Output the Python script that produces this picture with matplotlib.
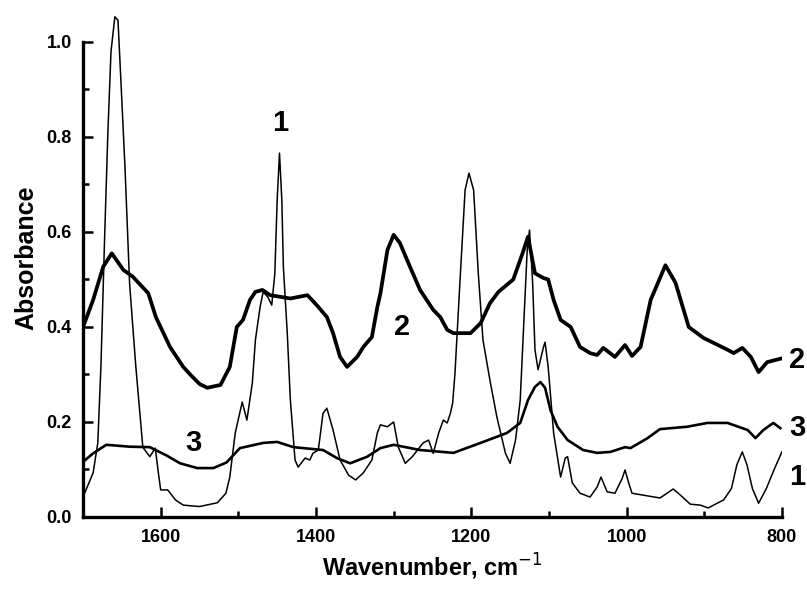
import matplotlib
matplotlib.use("Agg")
import matplotlib.pyplot as plt
from matplotlib.ticker import MultipleLocator

plt.rcParams['font.family'] = ['Liberation Sans', 'DejaVu Sans']

# curve 1 (thin, sharp bands)
wn1 = [1700, 1687, 1681, 1677, 1672, 1668, 1664, 1659, 1655, 1651, 1646, 1640, 1632, 1623,
       1614, 1607, 1603, 1600, 1591, 1581, 1571, 1550, 1527, 1516, 1511, 1504, 1495, 1489,
       1482, 1478, 1472, 1468, 1462, 1457, 1453, 1450, 1447, 1444, 1442, 1437, 1433, 1427,
       1423, 1414, 1408, 1404, 1397, 1391, 1386, 1378, 1369, 1358, 1349, 1339, 1328, 1321,
       1317, 1308, 1300, 1294, 1285, 1276, 1262, 1255, 1249, 1242, 1236, 1231, 1227, 1224,
       1221, 1214, 1208, 1203, 1197, 1191, 1185, 1176, 1167, 1156, 1150, 1143, 1137, 1133,
       1128, 1125, 1121, 1118, 1114, 1107, 1105, 1101, 1094, 1085, 1079, 1076, 1070, 1060,
       1047, 1038, 1033, 1025, 1015, 1006, 1002, 997, 993, 975, 957, 948, 940, 930, 918,
       905, 895, 875, 865, 858, 851, 845, 838, 830, 820, 810, 800]
ab1 = [0.042, 0.093, 0.156, 0.316, 0.60, 0.81, 0.98, 1.053, 1.046, 0.91, 0.737, 0.49, 0.316, 0.147,
       0.127, 0.145, 0.093, 0.057, 0.057, 0.036, 0.025, 0.022, 0.03, 0.05, 0.084, 0.177, 0.242, 0.204,
       0.282, 0.373, 0.442, 0.474, 0.463, 0.446, 0.513, 0.667, 0.766, 0.667, 0.526, 0.387, 0.246, 0.12,
       0.105, 0.124, 0.12, 0.134, 0.141, 0.218, 0.229, 0.183, 0.12, 0.088, 0.078, 0.093, 0.12, 0.177,
       0.194, 0.19, 0.20, 0.147, 0.113, 0.127, 0.156, 0.162, 0.134, 0.177, 0.204, 0.198, 0.218, 0.24,
       0.303, 0.513, 0.688, 0.724, 0.688, 0.513, 0.373, 0.288, 0.21, 0.134, 0.113, 0.162, 0.246, 0.387,
       0.562, 0.604, 0.493, 0.352, 0.31, 0.358, 0.368, 0.316, 0.177, 0.084, 0.124, 0.127, 0.072, 0.05,
       0.042, 0.063, 0.084, 0.053, 0.05, 0.08, 0.099, 0.07, 0.05, 0.045, 0.04, 0.05, 0.059, 0.045, 0.027,
       0.025, 0.019, 0.036, 0.06, 0.11, 0.137, 0.11, 0.06, 0.029, 0.06, 0.10, 0.137]

# curve 2 (thick)
wn2 = [1700, 1687, 1674, 1663, 1648, 1636, 1616, 1606, 1588, 1571, 1562, 1550, 1540, 1523,
       1511, 1502, 1494, 1485, 1478, 1469, 1459, 1433, 1411, 1399, 1386, 1378, 1369, 1360,
       1347, 1339, 1328, 1321, 1317, 1308, 1300, 1292, 1279, 1266, 1249, 1240, 1231, 1223,
       1201, 1188, 1176, 1165, 1146, 1134, 1127, 1118, 1107, 1101, 1094, 1085, 1072, 1060,
       1047, 1038, 1030, 1015, 1002, 993, 982, 969, 950, 937, 920, 901, 870, 862, 851, 840,
       830, 819, 800]
ab2 = [0.40, 0.457, 0.527, 0.555, 0.52, 0.506, 0.471, 0.42, 0.358, 0.316, 0.30, 0.28, 0.272, 0.278,
       0.316, 0.40, 0.415, 0.457, 0.474, 0.478, 0.467, 0.46, 0.467, 0.446, 0.421, 0.387, 0.337, 0.316,
       0.337, 0.358, 0.379, 0.442, 0.471, 0.562, 0.594, 0.577, 0.527, 0.478, 0.436, 0.421, 0.394, 0.387,
       0.387, 0.408, 0.45, 0.474, 0.50, 0.555, 0.59, 0.513, 0.503, 0.50, 0.457, 0.415, 0.40, 0.358,
       0.345, 0.341, 0.356, 0.337, 0.362, 0.339, 0.358, 0.457, 0.53, 0.493, 0.40, 0.377, 0.352, 0.345,
       0.356, 0.337, 0.305, 0.326, 0.334]

# curve 3 (medium)
wn3 = [1700, 1687, 1670, 1640, 1614, 1593, 1575, 1553, 1532, 1515, 1498, 1468, 1450, 1429,
       1391, 1373, 1356, 1334, 1317, 1300, 1266, 1223, 1188, 1154, 1137, 1127, 1118, 1111,
       1105, 1098, 1089, 1076, 1056, 1038, 1021, 1002, 995, 973, 957, 922, 896, 870, 844,
       834, 824, 811, 802]
ab3 = [0.116, 0.134, 0.152, 0.148, 0.147, 0.13, 0.113, 0.103, 0.103, 0.115, 0.145, 0.156, 0.158, 0.147,
       0.141, 0.124, 0.113, 0.127, 0.145, 0.152, 0.141, 0.135, 0.156, 0.177, 0.198, 0.246, 0.274, 0.284,
       0.272, 0.225, 0.19, 0.162, 0.141, 0.135, 0.137, 0.147, 0.145, 0.166, 0.185, 0.19, 0.198, 0.198, 0.183,
       0.166, 0.183, 0.198, 0.187]

fig = plt.figure(figsize=(8.07, 5.92), dpi=100)
ax = fig.add_axes([0.1029, 0.1267, 0.866, 0.8746])

ax.plot(wn1, ab1, color='black', lw=1.1)
ax.plot(wn2, ab2, color='black', lw=2.7)
ax.plot(wn3, ab3, color='black', lw=1.9)

ax.set_xlim(1700, 800)
ax.set_ylim(0, 1.09)

for s in ['top', 'right']:
    ax.spines[s].set_visible(False)
ax.spines['left'].set_bounds(0, 1.0)
ax.spines['left'].set_linewidth(2.4)
ax.spines['bottom'].set_linewidth(2.4)

ax.xaxis.set_major_locator(MultipleLocator(200))
ax.xaxis.set_minor_locator(MultipleLocator(100))
ax.yaxis.set_major_locator(MultipleLocator(0.2))
ax.yaxis.set_minor_locator(MultipleLocator(0.1))
ax.tick_params(which='both', direction='in', width=1.8)
ax.tick_params(which='major', length=7, labelsize=13)
ax.tick_params(which='minor', length=4)
ax.set_yticks([0.0, 0.2, 0.4, 0.6, 0.8, 1.0])
ax.set_yticklabels(['0.0', '0.2', '0.4', '0.6', '0.8', '1.0'])
for lab in ax.get_xticklabels() + ax.get_yticklabels():
    lab.set_fontweight('bold')
ax.tick_params(axis='x', pad=9)
ax.tick_params(axis='y', pad=8)

ax.set_xlabel('Wavenumber, cm$^{-1}$', fontsize=17, fontweight='bold', labelpad=4)
ax.set_ylabel('Absorbance', fontsize=18, fontweight='bold', labelpad=6)

# curve labels
lbl = dict(fontsize=21, fontweight='bold', ha='center', va='center')
ax.text(1446, 0.83, '1', **lbl)
ax.text(1289, 0.40, '2', **lbl)
ax.text(1558, 0.156, '3', **lbl)
ax.text(780, 0.33, '2', clip_on=False, **lbl)
ax.text(780, 0.187, '3', clip_on=False, **lbl)
ax.text(780, 0.084, '1', clip_on=False, **lbl)

fig.savefig('out.png', dpi=100)
